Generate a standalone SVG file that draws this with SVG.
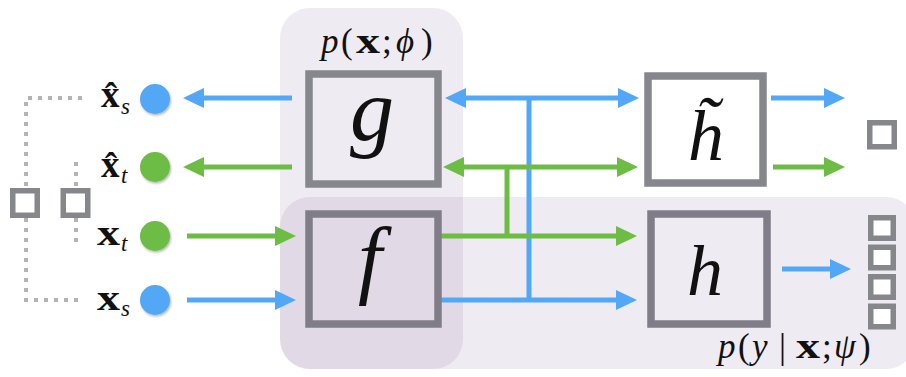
<svg xmlns="http://www.w3.org/2000/svg" width="906" height="377" viewBox="0 0 906 377">
<defs>
<style>
.panel{fill:#7a5893;fill-opacity:0.12}
.box{fill:none;stroke:#86878c;stroke-width:7.5}
.boxl{fill:none;stroke:#807c88;stroke-width:7.5}
.sq{fill:#ffffff;stroke:#86878b;stroke-width:5.5}
.dot{fill:none;stroke:#b4b4b4;stroke-width:4;stroke-dasharray:4 6}
.b{stroke:#52a8f6;stroke-width:5;fill:none}
.g{stroke:#6dbc44;stroke-width:5;fill:none}
.ab{marker-end:url(#hb)}
.ag{marker-end:url(#hg)}
.bb{marker-start:url(#hb);marker-end:url(#hb)}
.gg{marker-start:url(#hg);marker-end:url(#hg)}
.math{font-family:"Liberation Serif","Times New Roman",serif;fill:#111}
.it{font-style:italic}
.bd{font-weight:bold}
.big{font-family:"Liberation Serif","Times New Roman",serif;font-style:italic;fill:#111}
</style>
<marker id="hb" markerUnits="userSpaceOnUse" viewBox="0 0 21 20" markerWidth="21" markerHeight="20" refX="6" refY="10" orient="auto-start-reverse"><path d="M0,0 L21,10 L0,20 Z" fill="#52a8f6"/></marker>
<marker id="hg" markerUnits="userSpaceOnUse" viewBox="0 0 21 20" markerWidth="21" markerHeight="20" refX="6" refY="10" orient="auto-start-reverse"><path d="M0,0 L21,10 L0,20 Z" fill="#6dbc44"/></marker>
<filter id="sh" x="-30%" y="-30%" width="160%" height="160%"><feDropShadow dx="1" dy="1.5" stdDeviation="1.2" flood-color="#000" flood-opacity="0.3"/></filter>
</defs>
<rect width="906" height="377" fill="#ffffff"/>
<g id="panels">
<rect class="panel" x="280" y="8" width="183" height="361" rx="30"/>
<rect class="panel" x="280" y="197" width="636" height="172" rx="30"/>
<text class="math" font-size="35" y="53"><tspan class="it" x="321">p</tspan><tspan x="341">(</tspan><tspan class="bd" x="356" textLength="24" lengthAdjust="spacingAndGlyphs">x</tspan><tspan x="382">;</tspan><tspan class="it" x="396">ϕ</tspan><tspan x="421">)</tspan></text>
<text class="math" font-size="35" y="358"><tspan class="it" x="718">p</tspan><tspan x="738">(</tspan><tspan class="it" x="752">y</tspan><tspan x="779">|</tspan><tspan class="bd" x="796" textLength="24" lengthAdjust="spacingAndGlyphs">x</tspan><tspan x="822">;</tspan><tspan class="it" x="834">ψ</tspan><tspan x="859">)</tspan></text>
</g>
<g id="connectors">
<path class="dot" d="M82 98 H26 V188 M26 218 V300 H82 M76 162 V188 M76 218 V242"/>
<line class="b ab" x1="292" y1="98" x2="198" y2="98"/>
<line class="g ag" x1="292" y1="167" x2="198" y2="167"/>
<line class="g ag" x1="187" y1="236" x2="281" y2="236"/>
<line class="b ab" x1="187" y1="300" x2="281" y2="300"/>
<line class="b" x1="529" y1="98" x2="529" y2="302"/>
<line class="b bb" x1="460" y1="98" x2="624" y2="98"/>
<line class="b ab" x1="438" y1="300" x2="622" y2="300"/>
<line class="g" x1="507" y1="167" x2="507" y2="238"/>
<line class="g gg" x1="458" y1="167" x2="623" y2="167"/>
<line class="g ag" x1="436" y1="236" x2="622" y2="236"/>
<line class="b ab" x1="771" y1="98" x2="830" y2="98"/>
<line class="g ag" x1="773" y1="167" x2="830" y2="167"/>
<line class="b ab" x1="782" y1="269" x2="836" y2="269"/>
</g>
<g id="node-g"><rect class="box" x="309" y="74" width="129" height="110"/><text class="big" x="372" y="140" font-size="88" text-anchor="middle">g</text></g>
<g id="node-f"><rect class="boxl" x="309" y="214" width="129" height="110"/><text class="big" x="370" y="287" font-size="86" text-anchor="middle">f</text></g>
<g id="node-htilde"><rect class="box" x="648" y="76" width="115" height="107"/><text class="big" x="706" y="160" font-size="72" text-anchor="middle">h̃</text></g>
<g id="node-h"><rect class="boxl" x="651" y="214" width="116" height="110"/><text class="big" x="705" y="295" font-size="72" text-anchor="middle">h</text></g>
<g id="inputs">
<g id="in-xs-hat"><circle cx="155" cy="99" r="15" fill="#52a8f6" filter="url(#sh)"/><text class="math"><tspan class="bd" font-size="37" x="101" y="107">x̂</tspan><tspan class="it" font-size="23" x="121" y="114">s</tspan></text></g>
<g id="in-xt-hat"><circle cx="155" cy="167" r="15" fill="#6dbc44" filter="url(#sh)"/><text class="math"><tspan class="bd" font-size="37" x="101" y="177">x̂</tspan><tspan class="it" font-size="23" x="121" y="183">t</tspan></text></g>
<g id="in-xt"><circle cx="155" cy="236" r="15" fill="#6dbc44" filter="url(#sh)"/><text class="math"><tspan class="bd" font-size="35" x="97" y="245" textLength="23" lengthAdjust="spacingAndGlyphs">x</tspan><tspan class="it" font-size="23" x="121" y="251">t</tspan></text></g>
<g id="in-xs"><circle cx="155" cy="300" r="15" fill="#52a8f6" filter="url(#sh)"/><text class="math"><tspan class="bd" font-size="35" x="97" y="310" textLength="23" lengthAdjust="spacingAndGlyphs">x</tspan><tspan class="it" font-size="23" x="121" y="316">s</tspan></text></g>
</g>
<g id="sq-left1"><rect class="sq" x="12.75" y="190.75" width="24.5" height="24.5"/></g>
<g id="sq-left2"><rect class="sq" x="63.25" y="190.75" width="24.5" height="24.5"/></g>
<g id="sq-out1"><rect class="sq" x="869.75" y="122.75" width="24.5" height="24"/></g>
<g id="sq-out-stack">
<rect class="sq" x="870.75" y="217.75" width="22.5" height="20.5"/>
<rect class="sq" x="870.75" y="247.25" width="22.5" height="20.5"/>
<rect class="sq" x="870.75" y="276.75" width="22.5" height="20.5"/>
<rect class="sq" x="870.75" y="306.25" width="22.5" height="20.5"/>
</g>
</svg>
